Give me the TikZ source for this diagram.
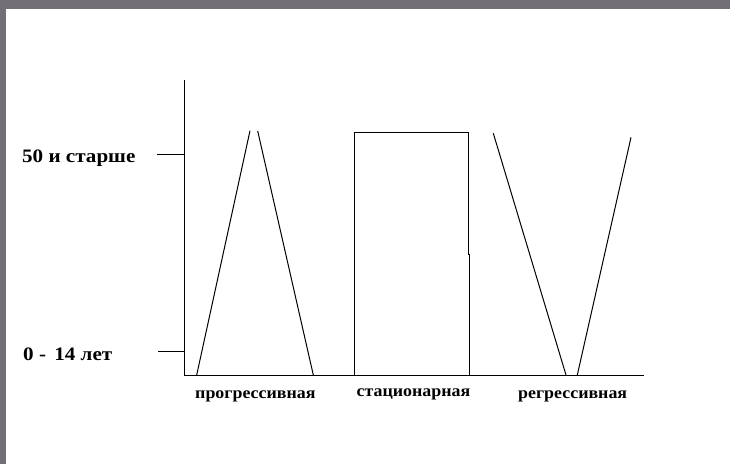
\documentclass[tikz,border=0pt]{standalone}
\usepackage{fontspec}
\setmainfont{Liberation Serif}
\newfontfamily\ylabfont[FakeStretch=1.11]{Liberation Serif}
\newfontfamily\catfont[FakeStretch=1.085]{Liberation Serif}
\begin{document}
\begin{tikzpicture}[x=1pt,y=-1pt,
  frame/.style={fill=framegray,draw=none},
  ln/.style={line width=1pt,black},
  lab/.style={font=\ylabfont\bfseries\fontsize{19}{22}\selectfont,inner sep=0pt,anchor=base west},
  cat/.style={font=\catfont\bfseries\fontsize{16.5}{19}\selectfont,inner sep=0pt,anchor=base west}]
\definecolor{framegray}{RGB}{114,111,118}
\useasboundingbox (0,0) rectangle (730,464);
\fill[white] (0,0) rectangle (730,464);
% frame bands
\fill[frame] (0,0) rectangle (730,9);
\fill[frame] (0,0) rectangle (6,464);
% axes
\coordinate (ytop) at (184.5,80);
\coordinate (orig) at (184.5,375);
\coordinate (xend) at (644,375);
\draw[ln] (ytop) -- (orig) -- (xend);
% ticks
\coordinate (t1a) at (157,154);
\coordinate (t1b) at (184.5,154);
\coordinate (t2a) at (158,351);
\coordinate (t2b) at (184.5,351);
\draw[ln] (t1a) -- (t1b);
\draw[ln] (t2a) -- (t2b);
% y labels
\node[lab] (l50) at (22,162.3) {50 и старше};
\node[lab] (l0) at (23,360.7) {0 -\hspace{3pt} 14 лет};
% progressive
\draw[ln] (196.7,375) -- (250,130.7);
\draw[ln] (257.7,131) -- (313.3,375);
% stationary
\draw[ln] (354.7,375) -- (354.7,132.7) -- (468.3,132.7) -- (468.3,254) -- (469.3,254) -- (469.3,375);
% regressive
\draw[ln] (493.3,133.3) -- (566,375);
\draw[ln] (577.3,375) -- (631,137.3);
% category labels
\node[cat] (cp) at (195,398) {прогрессивная};
\node[cat] (cs) at (356.5,396.7) {стационарная};
\node[cat] (cr) at (518,398) {регрессивная};
\end{tikzpicture}
\end{document}
